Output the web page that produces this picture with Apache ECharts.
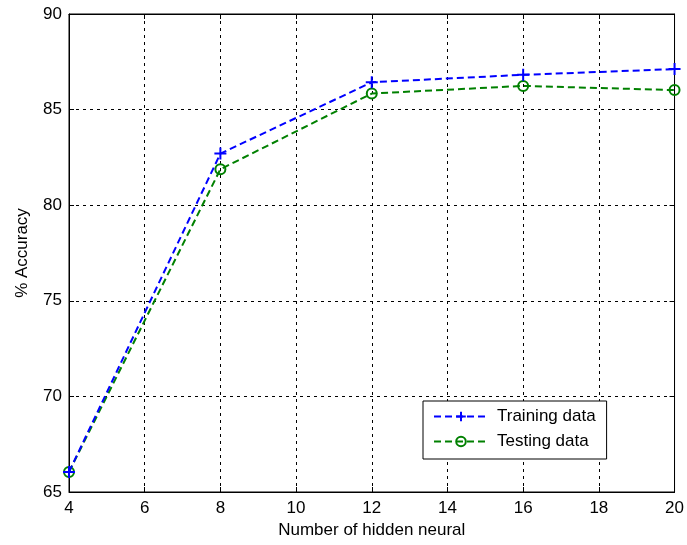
<!DOCTYPE html>
<html>
<head>
<meta charset="utf-8">
<script src="https://cdn.jsdelivr.net/npm/echarts@6/dist/echarts.min.js"></script>
<style>html,body{margin:0;padding:0;background:#fff}#c{width:687px;height:545px}</style>
</head>
<body>
<div id="c"></div>
<script>
var hiddenNeurons = [4, 8, 12, 16, 20];
var trainingAcc = [66.05, 82.7, 86.43, 86.82, 87.12];
var testingAcc = [66.05, 81.88, 85.84, 86.24, 86.02];
var xTicks = {min: 4, max: 20, step: 2};
var yTicks = {min: 65, max: 90, step: 5};
var xLabel = 'Number of hidden neural';
var yLabel = '% Accuracy';
var seriesNames = ['Training data', 'Testing data'];

var FONT = 'Liberation Sans';
var FS = 17;
var chart = echarts.init(document.getElementById('c'));
function pairs(xs, ys){ return xs.map(function(x,i){ return [x, ys[i]]; }); }
var gridLine = {show: true, lineStyle: {color: '#000', type: [3, 4], width: 1}};
var tick = {show: true, inside: true, length: 5, lineStyle: {color: '#000'}};
var axisLine = {show: true, onZero: false, lineStyle: {color: '#000', width: 1}};
chart.setOption({
  animation: false,
  backgroundColor: '#fff',
  grid: {left: 69, top: 14, right: 9, bottom: 53, show: true, borderColor: '#000', borderWidth: 1, backgroundColor: 'transparent'},
  xAxis: [{
    type: 'value', min: xTicks.min, max: xTicks.max, interval: xTicks.step,
    name: xLabel, nameLocation: 'middle', nameGap: 28,
    nameTextStyle: {fontFamily: FONT, fontSize: FS, color: '#000'},
    axisLine: axisLine, axisTick: tick, splitLine: gridLine,
    axisLabel: {fontFamily: FONT, fontSize: FS, color: '#000', margin: 8}
  }, {
    type: 'value', position: 'top', min: xTicks.min, max: xTicks.max, interval: xTicks.step,
    axisLine: axisLine, axisTick: tick, splitLine: {show: false}, axisLabel: {show: false}
  }],
  yAxis: [{
    type: 'value', min: yTicks.min, max: yTicks.max, interval: yTicks.step,
    name: yLabel, nameLocation: 'middle', nameGap: 38,
    nameTextStyle: {fontFamily: FONT, fontSize: FS, color: '#000'},
    axisLine: axisLine, axisTick: tick, splitLine: gridLine,
    axisLabel: {fontFamily: FONT, fontSize: FS, color: '#000', margin: 7}
  }, {
    type: 'value', position: 'right', min: yTicks.min, max: yTicks.max, interval: yTicks.step,
    axisLine: axisLine, axisTick: tick, splitLine: {show: false}, axisLabel: {show: false}
  }],
  legend: {
    left: 423, top: 401, orient: 'vertical',
    backgroundColor: '#fff', borderColor: '#000', borderWidth: 1,
    padding: [7, 11, 9, 10], itemGap: 8, itemWidth: 54, itemHeight: 12,
    textStyle: {fontFamily: FONT, fontSize: FS, color: '#000', padding: [0, 0, 0, 4]},
    data: seriesNames
  },
  series: [{
    name: seriesNames[0], type: 'line', data: pairs(hiddenNeurons, trainingAcc),
    symbol: 'path://M5,0L5,10M0,5L10,5', symbolSize: 12,
    itemStyle: {color: 'transparent', borderColor: '#0000ff', borderWidth: 2},
    lineStyle: {color: '#0000ff', width: 2, type: [7, 4]},
    color: '#0000ff', z: 3
  }, {
    name: seriesNames[1], type: 'line', data: pairs(hiddenNeurons, testingAcc),
    symbol: 'circle', symbolSize: 10,
    itemStyle: {color: 'transparent', borderColor: '#008000', borderWidth: 2},
    lineStyle: {color: '#008000', width: 2, type: [7, 4]},
    color: '#008000', z: 2
  }]
});
</script>
</body>
</html>
